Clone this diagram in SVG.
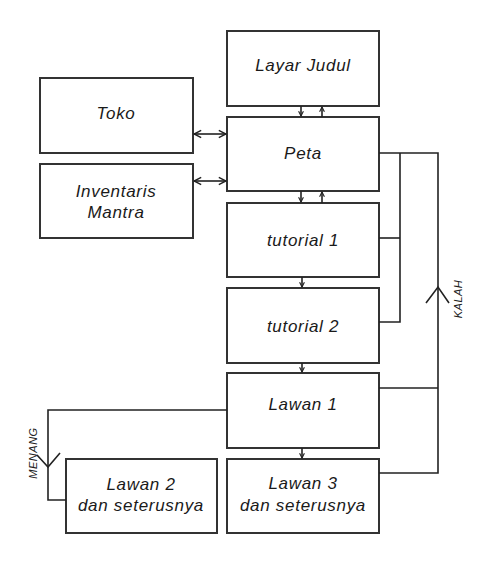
<svg xmlns="http://www.w3.org/2000/svg" width="489" height="568" viewBox="0 0 489 568">
<style>
.box{fill:#fff;stroke:#333;stroke-width:2}
.t{font-family:"Liberation Sans",Arial,sans-serif;font-style:italic;font-size:17px;letter-spacing:0.7px;fill:#1a1a1a;text-anchor:middle}
.lab{font-family:"Liberation Sans",Arial,sans-serif;font-style:italic;font-size:11px;letter-spacing:0.5px;fill:#222;text-anchor:middle}
.c{fill:none;stroke:#222;stroke-width:1.6}
.ah{fill:none;stroke:#222;stroke-width:1.6}
</style>
<defs>
<marker id="a" viewBox="0 0 10 10" refX="9" refY="5" markerWidth="9" markerHeight="10" markerUnits="userSpaceOnUse" orient="auto-start-reverse">
<path d="M1,1 L9,5 L1,9" fill="none" stroke="#222" stroke-width="1.6"/>
</marker>
<marker id="s" viewBox="0 0 10 10" refX="9" refY="5" markerWidth="6" markerHeight="6" markerUnits="userSpaceOnUse" orient="auto">
<path d="M1,1 L9,5 L1,9" fill="none" stroke="#222" stroke-width="1.8"/>
</marker>
</defs>
<g id="layar-judul"><rect class="box" x="227" y="31" width="152" height="75"/><text class="t" x="303" y="71">Layar Judul</text></g>
<g id="peta"><rect class="box" x="227" y="117" width="152" height="74"/><text class="t" x="303" y="159">Peta</text></g>
<g id="toko"><rect class="box" x="40" y="78" width="153" height="75"/><text class="t" x="116" y="119">Toko</text></g>
<g id="inventaris-mantra"><rect class="box" x="40" y="164" width="153" height="74"/><text class="t" x="116" y="197">Inventaris</text><text class="t" x="116" y="218">Mantra</text></g>
<g id="tutorial-1"><rect class="box" x="227" y="203" width="152" height="74"/><text class="t" x="303" y="246">tutorial 1</text></g>
<g id="tutorial-2"><rect class="box" x="227" y="288" width="152" height="75"/><text class="t" x="303" y="332">tutorial 2</text></g>
<g id="lawan-1"><rect class="box" x="227" y="373" width="152" height="75"/><text class="t" x="303" y="410">Lawan 1</text></g>
<g id="lawan-2"><rect class="box" x="66" y="459" width="151" height="74"/><text class="t" x="141" y="490">Lawan 2</text><text class="t" x="141" y="511">dan seterusnya</text></g>
<g id="lawan-3"><rect class="box" x="227" y="459" width="152" height="74"/><text class="t" x="303" y="489">Lawan 3</text><text class="t" x="303" y="511">dan seterusnya</text></g>
<g id="connectors">
<line class="c" x1="301" y1="106" x2="301" y2="116" marker-end="url(#s)"/>
<line class="c" x1="322" y1="117" x2="322" y2="107" marker-end="url(#s)"/>
<line class="c" x1="301" y1="191" x2="301" y2="202" marker-end="url(#s)"/>
<line class="c" x1="322" y1="203" x2="322" y2="192" marker-end="url(#s)"/>
<line class="c" x1="302" y1="277" x2="302" y2="287" marker-end="url(#s)"/>
<line class="c" x1="302" y1="363" x2="302" y2="372" marker-end="url(#s)"/>
<line class="c" x1="302" y1="448" x2="302" y2="458" marker-end="url(#s)"/>
<line class="c" x1="194" y1="134" x2="226" y2="134" marker-start="url(#a)" marker-end="url(#a)"/>
<line class="c" x1="194" y1="181" x2="226" y2="181" marker-start="url(#a)" marker-end="url(#a)"/>
<polyline class="c" points="379,153 438,153 438,473 379,473"/>
<line class="c" x1="379" y1="388" x2="438" y2="388"/>
<polyline class="c" points="379,238 400,238"/>
<polyline class="c" points="400,153 400,322 379,322"/>
<path class="ah" d="M426,303 L438,287 L449,303"/>
<polyline class="c" points="227,410 48,410 48,500 66,500"/>
<path class="ah" d="M37,455 L48,467 L60,453"/>
<text class="lab" transform="translate(462,299) rotate(-90)">KALAH</text>
<text class="lab" transform="translate(37,453) rotate(-90)">MENANG</text>
</g>
</svg>
